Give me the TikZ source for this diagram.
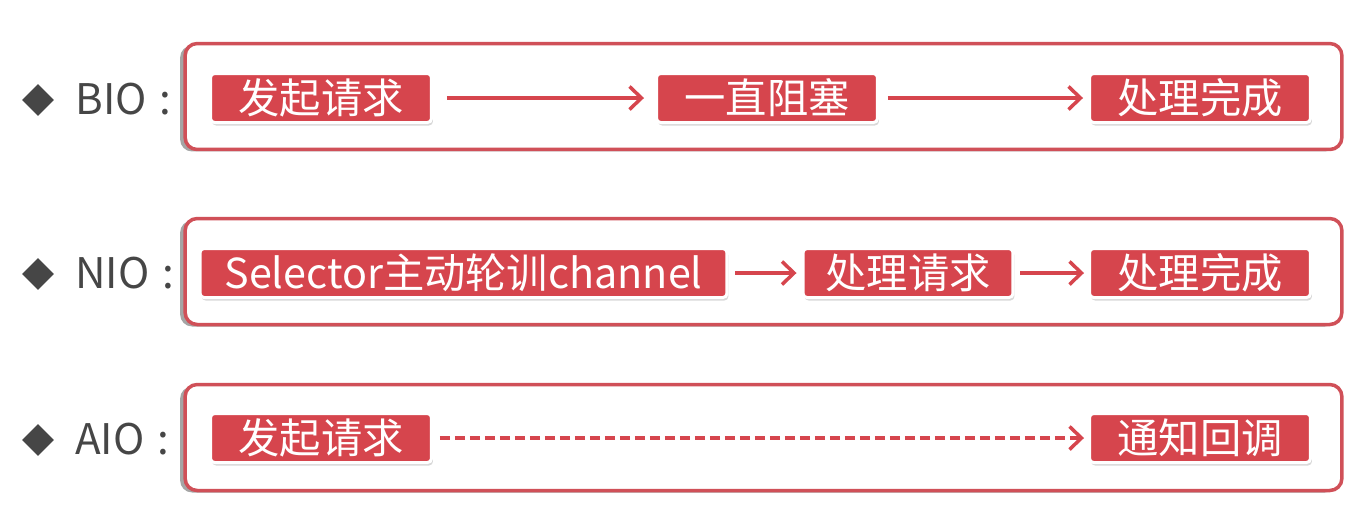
\documentclass[tikz,border=0pt]{standalone}
\usepackage{fontspec}
\newfontfamily\cjk{Noto Sans CJK SC}
\usetikzlibrary{arrows.meta,shadows,shapes.geometric}
\definecolor{boxred}{RGB}{214,69,77}
\definecolor{framered}{RGB}{208,80,88}
\definecolor{labelgray}{RGB}{70,70,70}
\newcommand{\widthstep}{4.42cm}
\newcommand{\widthframe}{23.14cm}
\newcommand{\heightstep}{0.98cm}
\newcommand{\heightframe}{2.12cm}
\tikzset{
    frame/.style={draw=framered, line width=0.07cm, rounded corners=0.24cm, fill=white,
        minimum width=\widthframe, minimum height=\heightframe,
        drop shadow={shadow xshift=-0.1cm, shadow yshift=-0.04cm, opacity=0.5, fill=black!70}},
    stepbox/.style={draw=white, line width=0.06cm, fill=boxred, text=white, rounded corners=0.08cm,
        minimum width=\widthstep, minimum height=\heightstep, inner sep=0pt,
        font=\cjk\fontsize{23.5}{24}\selectfont,
        drop shadow={shadow xshift=0.03cm, shadow yshift=-0.06cm, opacity=0.3}},
    rowmark/.style={diamond, fill=labelgray, inner sep=0pt, minimum size=0.64cm},
    rowlabel/.style={anchor=west, text=labelgray, inner sep=0pt, font=\cjk\fontsize{24}{24}\selectfont},
    flow/.style={-{Straight Barb[length=0.24cm, width=0.46cm, line width=0.07cm]}, draw=boxred, line width=0.07cm},
    waitflow/.style={flow, dash pattern=on 0.2cm off 0.1cm}
}
\begin{document}
\begin{tikzpicture}[x=0.02cm, y=-0.02cm]
    \useasboundingbox (0,0) rectangle (1370,512);

    % BIO
    \node[frame] (bioframe) at (763.5,96.5) {};
    \node[rowmark] (biomark) at (38,100) {};
    \node[rowlabel] (biolabel) at (75,99) {BIO\hspace{0.3em}:};
    \node[stepbox] (bioreq) at (321,98) {发起请求};
    \node[stepbox] (bioblock) at (767,98) {一直阻塞};
    \node[stepbox] (biodone) at (1200,98) {处理完成};
    \draw[flow, shorten <=0.28cm, shorten >=0.22cm] (bioreq) -- (bioblock);
    \draw[flow, shorten <=0.18cm, shorten >=0.1cm] (bioblock) -- (biodone);

    % NIO
    \node[frame] (nioframe) at (763.5,271.5) {};
    \node[rowmark] (niomark) at (38,274) {};
    \node[rowlabel] (niolabel) at (75,273) {NIO\hspace{0.3em}:};
    \node[stepbox, minimum width=10.54cm] (nioselect) at (463.5,273) {Selector主动轮训channel};
    \node[stepbox, minimum width=4.2cm] (nioreq) at (908,273) {处理请求};
    \node[stepbox] (niodone) at (1200,273) {处理完成};
    \draw[flow, shorten <=0.14cm, shorten >=0.1cm] (nioselect) -- (nioreq);
    \draw[flow, shorten <=0.12cm, shorten >=0.08cm] (nioreq) -- (niodone);

    % AIO
    \node[frame] (aioframe) at (763.5,437.5) {};
    \node[rowmark] (aiomark) at (38,440) {};
    \node[rowlabel] (aiolabel) at (75,439) {AIO\hspace{0.3em}:};
    \node[stepbox] (aioreq) at (321,438) {发起请求};
    \node[stepbox] (aionotify) at (1200,438) {通知回调};
    \draw[waitflow, shorten <=0.14cm, shorten >=0.08cm] (aioreq) -- (aionotify);
\end{tikzpicture}
\end{document}
